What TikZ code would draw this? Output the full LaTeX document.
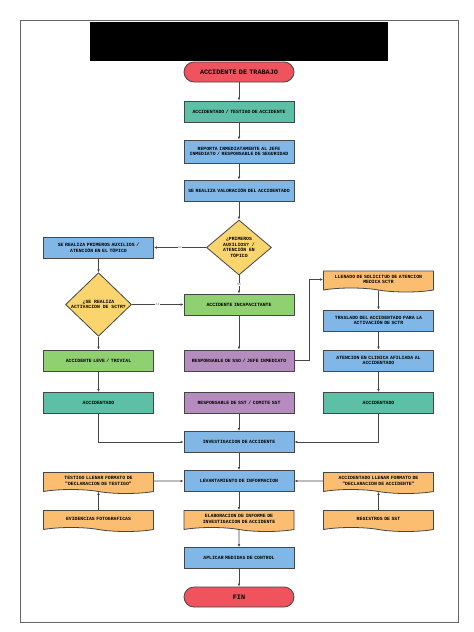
\documentclass[tikz,border=0pt]{standalone}
\usepackage{fontspec}
\newfontfamily\boxfont{Liberation Mono}
\usetikzlibrary{arrows.meta}
\usetikzlibrary{shapes.geometric}
\usetikzlibrary{shapes.symbols}

\definecolor{crojo}{RGB}{238,83,94}
\definecolor{cverdeazul}{RGB}{92,191,166}
\definecolor{cazul}{RGB}{128,183,230}
\definecolor{camarillo}{RGB}{250,213,110}
\definecolor{cverde}{RGB}{143,208,112}
\definecolor{cmorado}{RGB}{181,140,190}
\definecolor{cnaranja}{RGB}{251,190,112}
\definecolor{clinea}{RGB}{70,70,70}

\tikzset{
  caja/.style={draw=clinea, line width=0.8pt, minimum width=110pt, minimum height=21pt,
    text width=107pt, align=center, inner sep=1pt,
    font=\boxfont\bfseries\fontsize{4.8}{5.6}\selectfont},
  azul/.style={caja, fill=cazul},
  verdeazul/.style={caja, fill=cverdeazul},
  verde/.style={caja, fill=cverde},
  morado/.style={caja, fill=cmorado},
  documento/.style={caja, fill=cnaranja, tape, tape bend top=none,
    tape bend bottom=out and in, tape bend height=4pt},
  terminal/.style={caja, fill=crojo, rounded corners=10pt, minimum height=20pt,
    font=\boxfont\bfseries\fontsize{6.8}{7.6}\selectfont},
  rombo/.style={diamond, draw=clinea, line width=0.8pt, fill=camarillo, inner sep=0pt,
    align=center, font=\boxfont\bfseries\fontsize{4.8}{5.6}\selectfont},
  flecha/.style={draw=clinea, line width=0.6pt, -{Latex[length=3pt,width=2.6pt]}},
  etiqueta/.style={font=\boxfont\fontsize{3}{3.5}\selectfont, text=black!60, fill=white, inner sep=0.5pt},
}

\begin{document}
\begin{tikzpicture}[x=1pt,y=-1pt]

\useasboundingbox (0,0) rectangle (474,632);
\fill[white] (0,0) rectangle (474,632);

% marco y titulo
\draw[black!60, line width=0.8pt] (20,20) rectangle (458,622);
\fill[black] (90,22) rectangle (388,61);

% columna central
\node[terminal] (inicio) at (239,72) {ACCIDENTE DE TRABAJO};
\node[verdeazul] (testigo) at (239,111.5) {ACCIDENTADO / TESTIGO DE ACCIDENTE};
\node[azul, minimum height=23pt] (reporta) at (239,151.5) {REPORTA INMEDIATAMENTE AL JEFE\\INMEDIATO / RESPONSABLE DE SEGURIDAD};
\node[azul] (valoracion) at (239,190.5) {SE REALIZA VALORACIÓN DEL ACCIDENTADO};
\node[rombo, minimum width=65pt, minimum height=55pt] (primeros) at (239,247.5) {¿PRIMEROS\\AUXILIOS? /\\ATENCIÓN EN\\TÓPICO};
\node[verde] (incapacitante) at (239,304.5) {ACCIDENTE INCAPACITANTE};
\node[morado] (sso) at (239,360.5) {RESPONSABLE DE SSO / JEFE INMEDIATO};
\node[morado] (sst) at (239,403) {RESPONSABLE DE SST / COMITE SST};
\node[azul] (investigacion) at (239,442) {INVESTIGACION DE ACCIDENTE};
\node[azul] (levantamiento) at (239,481) {LEVANTAMIENTO DE INFORMACION};
\node[documento] (informe) at (239,519) {ELABORACION DE INFORME DE\\INVESTIGACION DE ACCIDENTE};
\node[azul] (medidas) at (239,558) {APLICAR MEDIDAS DE CONTROL};
\node[terminal] (fin) at (239,597) {FIN};

% columna izquierda
\node[azul] (auxilios) at (98.5,247.5) {SE REALIZA PRIMEROS AUXILIOS /\\ATENCIÓN EN EL TÓPICO};
\node[rombo, minimum width=66pt, minimum height=54pt] (sctr) at (98.5,304.5) {¿SE REALIZA\\ACTIVACION DE SCTR?};
\node[verde] (leve) at (98.5,360.5) {ACCIDENTE LEVE / TRIVIAL};
\node[verdeazul] (accizq) at (98.5,403) {ACCIDENTADO};
\node[documento] (decltestigo) at (98.5,481) {TESTIGO LLENAR FORMATO DE\\"DECLARACION DE TESTIGO"};
\node[documento] (fotos) at (98.5,519) {EVIDENCIAS FOTOGRAFICAS};

% columna derecha
\node[documento] (solicitud) at (378.5,279.5) {LLENADO DE SOLICITUD DE ATENCION\\MEDICA SCTR};
\node[azul] (traslado) at (378.5,320.5) {TRASLADO DEL ACCIDENTADO PARA LA\\ACTIVACIÓN DE SCTR};
\node[azul] (clinica) at (378.5,360.5) {ATENCION EN CLINICA AFILIADA AL\\ACCIDENTADO};
\node[verdeazul] (accder) at (378.5,403) {ACCIDENTADO};
\node[documento] (declacc) at (378.5,481) {ACCIDENTADO LLENAR FORMATO DE\\"DECLARACION DE ACCIDENTE"};
\node[documento] (registros) at (378.5,519) {REGISTROS DE SST};

\coordinate (codo) at (309,0);

% conectores
\draw[flecha] (inicio) -- (testigo);
\draw[flecha] (testigo) -- (reporta);
\draw[flecha] (reporta) -- (valoracion);
\draw[flecha] (valoracion) -- (primeros);
\draw[flecha] (primeros) -- (auxilios) node[etiqueta, midway] {SI};
\draw[flecha] (primeros) -- (incapacitante) node[etiqueta, midway] {NO};
\draw[flecha] (auxilios) -- (sctr);
\draw[flecha] (sctr) -- (incapacitante) node[etiqueta, midway] {SI};
\draw[flecha] (sctr) -- (leve);
\draw[flecha] (incapacitante) -- (sso);
\draw[flecha] (sso.east) -- (sso.east -| codo) |- (solicitud.west);
\draw[flecha] (solicitud) -- (traslado);
\draw[flecha] (traslado) -- (clinica);
\draw[flecha] (clinica) -- (accder);
\draw[flecha] (leve) -- (accizq);
\draw[flecha] (accizq) |- (investigacion);
\draw[flecha] (accder) |- (investigacion);
\draw[flecha] (sst) -- (investigacion);
\draw[flecha] (investigacion) -- (levantamiento);
\draw[flecha] (decltestigo) -- (levantamiento);
\draw[flecha] (declacc) -- (levantamiento);
\draw[flecha] (fotos) -- (decltestigo);
\draw[flecha] (registros) -- (declacc);
\draw[flecha] (levantamiento) -- (informe);
\draw[flecha] (informe) -- (medidas);
\draw[flecha] (medidas) -- (fin);

\end{tikzpicture}
\end{document}
